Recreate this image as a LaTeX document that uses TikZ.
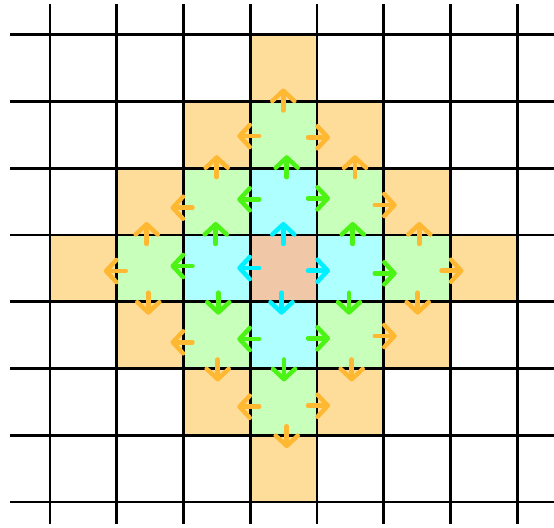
\documentclass[tikz,border=0pt]{standalone}
\usetikzlibrary{arrows.meta}
\definecolor{fillO}{RGB}{254,220,154}
\definecolor{fillG}{RGB}{200,255,186}
\definecolor{fillC}{RGB}{174,255,255}
\definecolor{fillM}{RGB}{240,200,168}
\definecolor{arrO}{RGB}{255,184,50}
\definecolor{arrG}{RGB}{76,244,22}
\definecolor{arrC}{RGB}{0,240,255}
\tikzset{
  gridline/.style={line width=1.2pt,black},
  arr/.style={line width=1.9pt,line cap=round,-{Straight Barb[length=4.4pt,width=9.4pt,round]}},
}
\newcommand{\arrU}[3]{\draw[arr,#1] (#2,{34.7+66.75*#3+9}) -- (#2,{34.7+66.75*#3-13});}
\newcommand{\arrD}[3]{\draw[arr,#1] (#2,{34.7+66.75*#3-9}) -- (#2,{34.7+66.75*#3+13});}
\newcommand{\arrL}[3]{\draw[arr,#1] ({50+66.75*#3+9},#2) -- ({50+66.75*#3-13},#2);}
\newcommand{\arrR}[3]{\draw[arr,#1] ({50+66.75*#3-9},#2) -- ({50+66.75*#3+13},#2);}
\newcommand{\cellfill}[3]{\fill[#1] ({50+66.75*#2},{34.7+66.75*#3}) rectangle ++(66.75,66.75);}
\begin{document}
\begin{tikzpicture}[x=0.014981cm,y=-0.014981cm]
\useasboundingbox (0,0) rectangle (554,527);
% cells
\cellfill{fillM}{3}{3}
\foreach \c/\r in {3/2,2/3,4/3,3/4}{\cellfill{fillC}{\c}{\r}}
\foreach \c/\r in {3/1,2/2,4/2,1/3,5/3,2/4,4/4,3/5}{\cellfill{fillG}{\c}{\r}}
\foreach \c/\r in {3/0,2/1,4/1,1/2,5/2,0/3,6/3,1/4,5/4,2/5,4/5,3/6}{\cellfill{fillO}{\c}{\r}}
% grid
\foreach \i in {0,...,7}{
  \draw[gridline] ({50+66.75*\i},4) -- ({50+66.75*\i},524);
  \draw[gridline] (10,{34.7+66.75*\i}) -- (554,{34.7+66.75*\i});
}
% cyan arrows
\arrU{arrC}{283.3}{3}
\arrL{arrC}{268}{3}
\arrR{arrC}{270.7}{4}
\arrD{arrC}{281.5}{4}
% green arrows
\arrU{arrG}{286.7}{2}
\arrL{arrG}{199.3}{3}
\arrR{arrG}{198.3}{4}
\arrU{arrG}{215.7}{3}
\arrL{arrG}{266}{2}
\arrD{arrG}{218.3}{4}
\arrU{arrG}{352.7}{3}
\arrR{arrG}{273.3}{5}
\arrD{arrG}{349}{4}
\arrL{arrG}{339}{3}
\arrR{arrG}{338.3}{4}
\arrD{arrG}{284}{5}
% orange arrows
\arrU{arrO}{283.3}{1}
\arrL{arrO}{136}{3}
\arrR{arrO}{137.3}{4}
\arrU{arrO}{216.7}{2}
\arrL{arrO}{207.7}{2}
\arrU{arrO}{355}{2}
\arrR{arrO}{205}{5}
\arrL{arrO}{271}{1}
\arrU{arrO}{146.7}{3}
\arrD{arrO}{148.3}{4}
\arrU{arrO}{419.3}{3}
\arrR{arrO}{270.7}{6}
\arrD{arrO}{417.7}{4}
\arrL{arrO}{342.3}{2}
\arrD{arrO}{217.7}{5}
\arrR{arrO}{336}{5}
\arrD{arrO}{351.7}{5}
\arrL{arrO}{406.7}{3}
\arrR{arrO}{405.7}{4}
\arrD{arrO}{286.7}{6}
\end{tikzpicture}
\end{document}
